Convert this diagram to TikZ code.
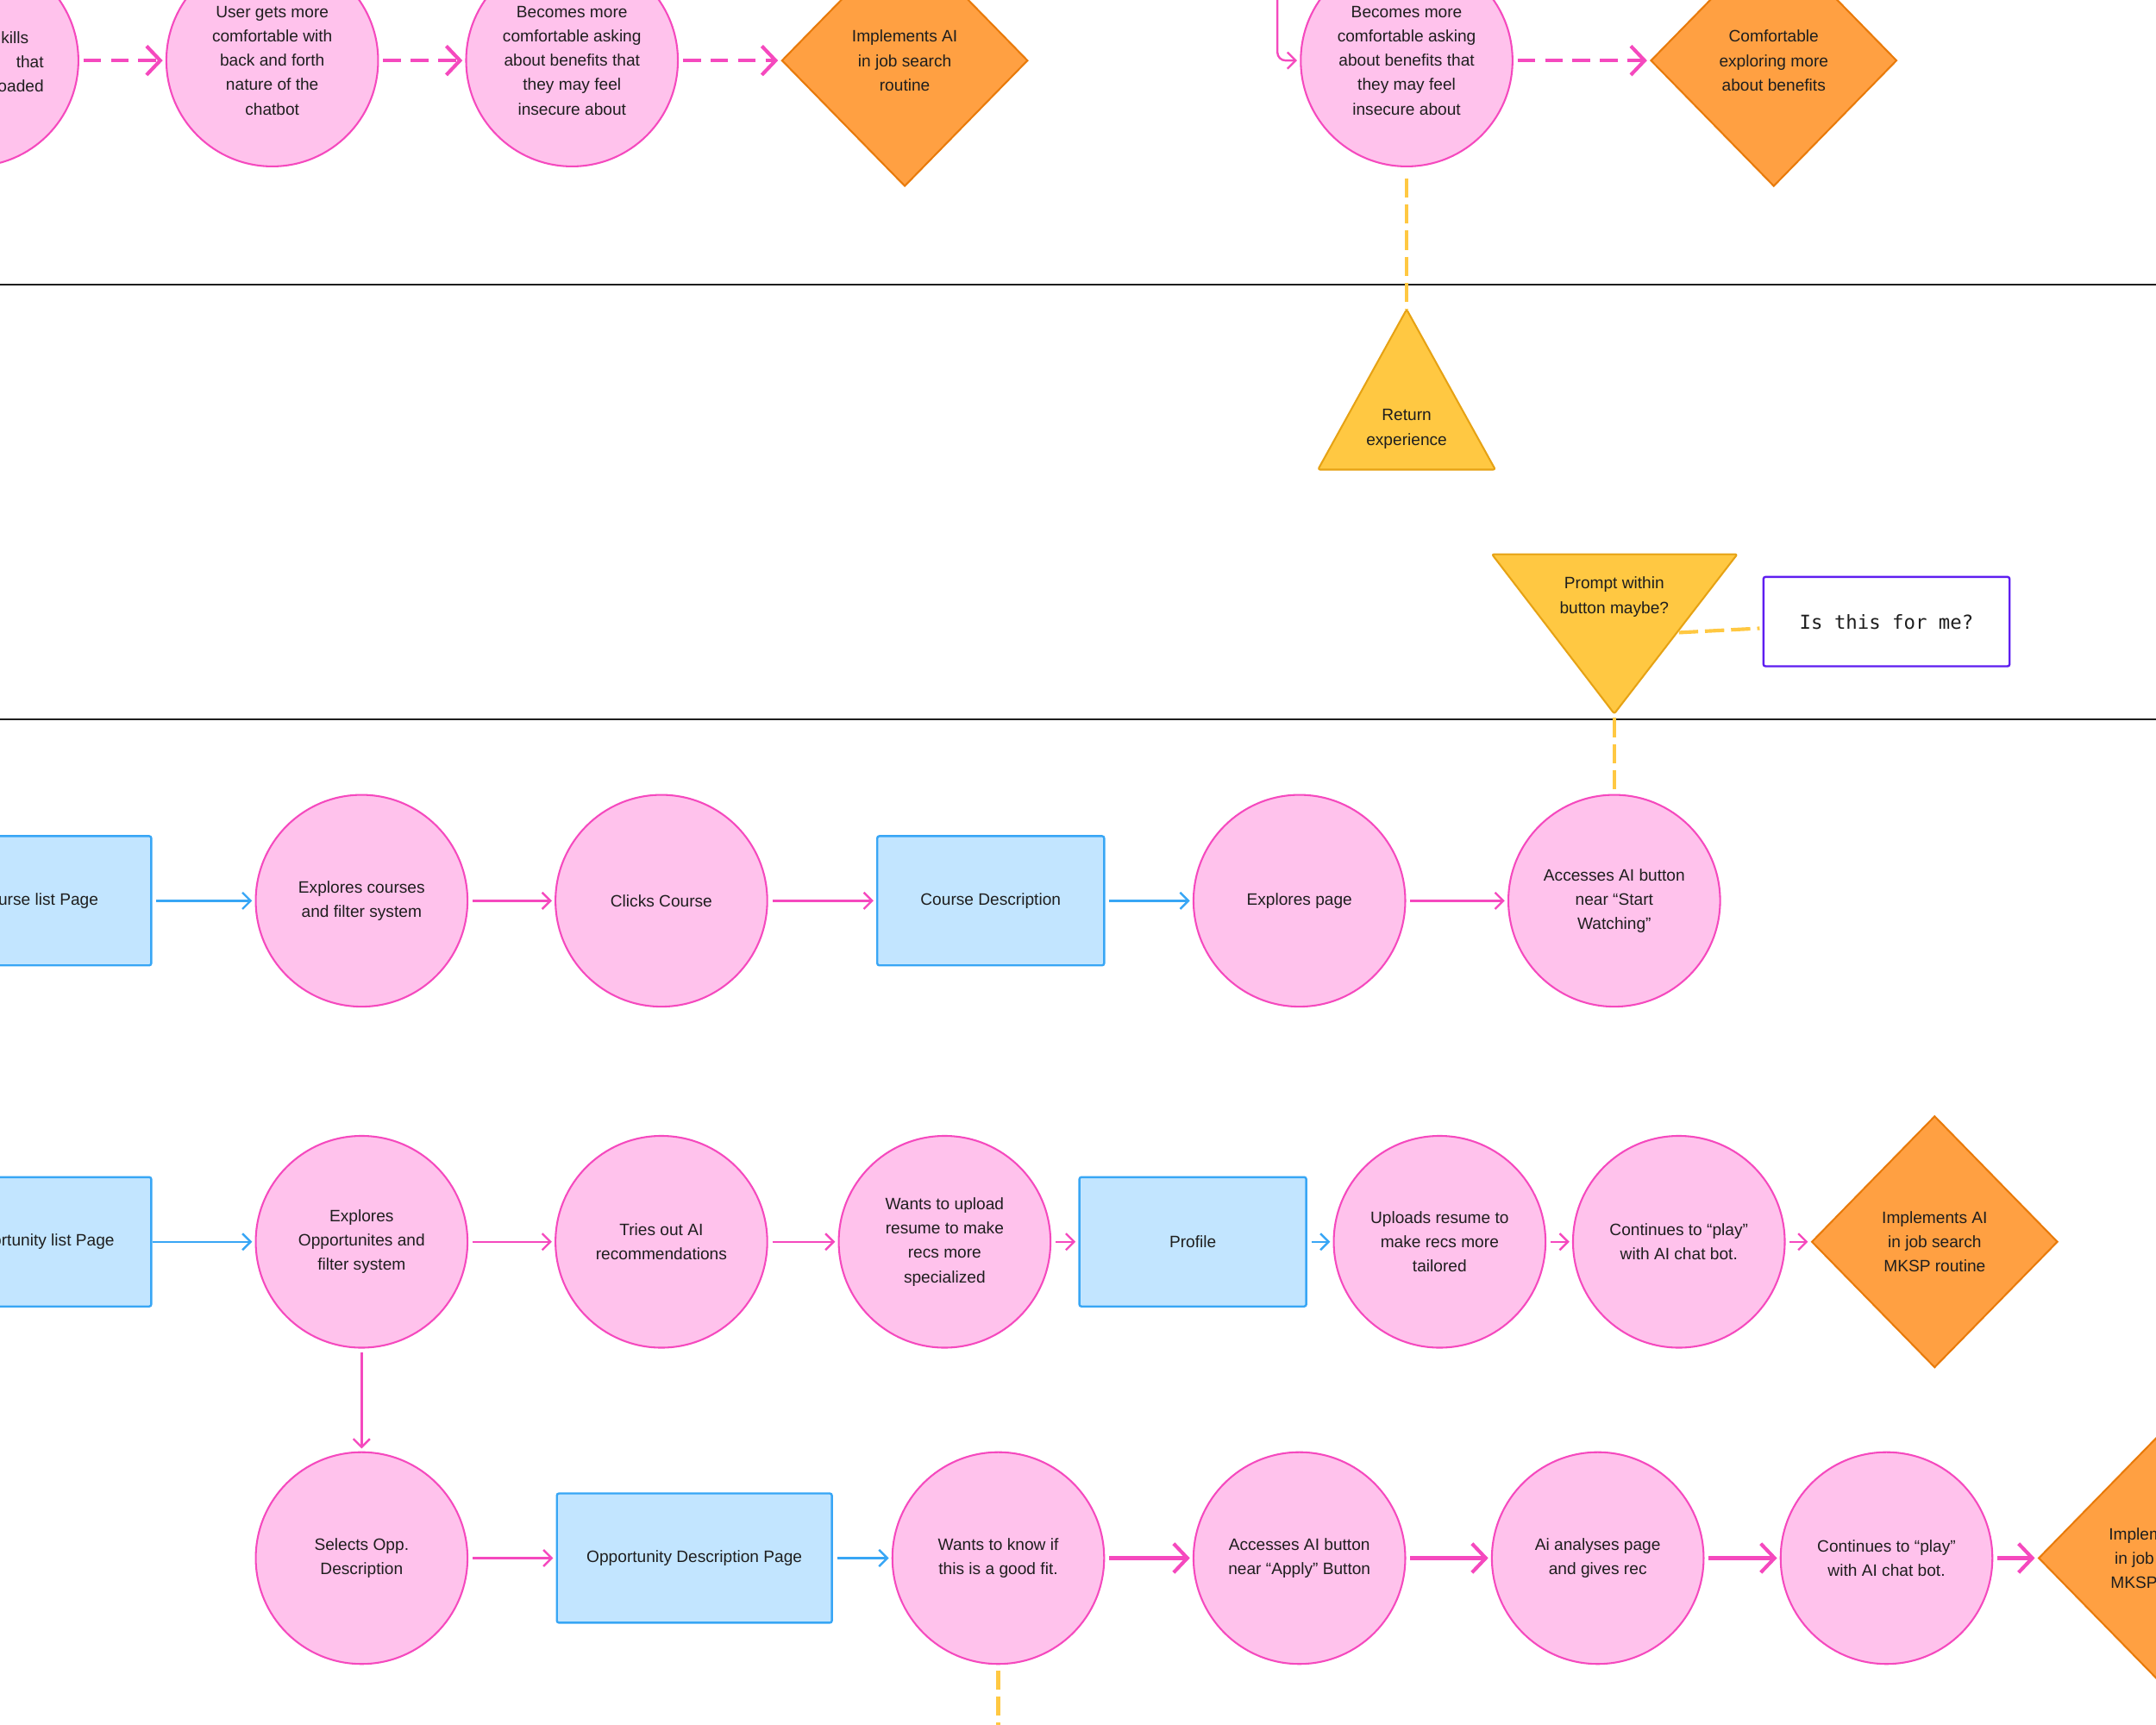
\documentclass[tikz,border=0pt]{standalone}
\usepackage{fontspec}
\setmainfont{Liberation Sans}
\newfontfamily\monofont{DejaVu Sans Mono}
\usetikzlibrary{positioning,shapes.geometric,arrows.meta}

\definecolor{pinkfill}{RGB}{255,194,236}
\definecolor{pinkline}{RGB}{245,73,190}
\definecolor{bluefill}{RGB}{194,229,255}
\definecolor{blueline}{RGB}{56,166,245}
\definecolor{orangefill}{RGB}{255,160,66}
\definecolor{orangeline}{RGB}{232,122,10}
\definecolor{yellowfill}{RGB}{255,200,66}
\definecolor{yellowline}{RGB}{230,162,20}
\definecolor{purpleline}{RGB}{94,30,240}
\definecolor{inktext}{RGB}{30,30,30}

\begin{document}
\begin{tikzpicture}[x=1pt, y=-1pt,
  every node/.style={
    font=\fontsize{12}{17.7}\selectfont,
    text=inktext,
    align=center,
  },
  stepc/.style={circle, draw=pinkline, fill=pinkfill, line width=1.3pt, minimum size=154pt, inner sep=1pt},
  pagebox/.style={rectangle, rounded corners=1.5pt, draw=blueline, fill=bluefill, line width=1.5pt, minimum width=165pt, minimum height=94pt},
  goal/.style={diamond, draw=orangeline, fill=orangefill, line width=1.3pt, minimum width=179pt, minimum height=183pt, inner sep=1pt},
  tri/.style={draw=yellowline, fill=yellowfill, line width=1.3pt, rounded corners=1.5pt, line join=round},
  flowp/.style={draw=pinkline, line width=1.5pt, -{Straight Barb[length=6pt,width=12pt]}, shorten <=3pt, shorten >=2pt},
  flowb/.style={flowp, draw=blueline},
  flowx/.style={flowp, line width=2.6pt, -{Straight Barb[length=10pt,width=21pt]}},
  flowd/.style={flowx, dash pattern=on 13pt off 7pt},
  hint/.style={draw=yellowfill, line width=2.6pt, dash pattern=on 14pt off 5pt},
]

  \useasboundingbox (0,0) rectangle (1568,1254);
  \clip (0,0) rectangle (1568,1254);

  % lanes
  \draw[line width=1.6pt, draw=inktext] (0,207) -- (1568,207);
  \draw[line width=1.6pt, draw=inktext] (0,523) -- (1568,523);

  % top lane
  \node[stepc] (t0) at (-20,44) {};
  \node[anchor=east, align=right, inner sep=0pt] (t0txt) at (32,45) {kills\kern11pt\\that\\oaded};
  \node[stepc, right of=t0, node distance=218pt] (t1) {User gets more\\comfortable with\\back and forth\\nature of the\\chatbot};
  \node[stepc, right of=t1, node distance=218pt] (t2) {Becomes more\\comfortable asking\\about benefits that\\they may feel\\insecure about};
  \node[goal, right of=t2, node distance=242pt] (t3) {Implements AI\\in job search\\routine};

  \node[stepc] (t4) at (1023,44) {Becomes more\\comfortable asking\\about benefits that\\they may feel\\insecure about};
  \node[goal, right of=t4, node distance=267pt] (t5) {Comfortable\\exploring more\\about benefits};
  \coordinate (t4in) at (929,-10);

  \draw[flowd] (t0) -- (t1);
  \draw[flowd] (t1) -- (t2);
  \draw[flowd] (t2) -- (t3);
  \draw[flowd] (t4) -- (t5);
  \draw[flowp, rounded corners=6pt] (t4in) |- (t4.west);

  % triangles
  \draw[tri] (1023,225) -- (1087.5,341.5) -- (958.5,341.5) -- cycle;
  \node (ret) at (1023,312) {Return\\experience};
  \coordinate (rettop) at (1023,225);
  \draw[hint, shorten <=8pt] (t4) -- (rettop);

  \draw[tri] (1085,403) -- (1263.5,403) -- (1174,519) -- cycle;
  \node (pmt) at (1174,434) {Prompt within\\button maybe?};
  \coordinate (pmtbot) at (1174,522);
  \coordinate (pmtside) at (1221,460);
  \node[draw=purpleline, fill=white, line width=1.5pt, rounded corners=1.5pt, minimum width=179pt, minimum height=65pt,
    font=\monofont\fontsize{14}{17}\selectfont] (ask) at (1372,452) {Is this for me?};
  \draw[hint, shorten >=2pt] (pmtside) -- (ask);

  % course lane
  \node[pagebox] (cl) at (27.5,655) {Course list Page};
  \node[stepc, right of=cl, node distance=235.5pt] (ec) {Explores courses\\and filter system};
  \node[stepc, right of=ec, node distance=218pt] (cc) {Clicks Course};
  \node[pagebox, right of=cc, node distance=239.5pt] (cd) {Course Description};
  \node[stepc, right of=cd, node distance=224.5pt] (ep) {Explores page};
  \node[stepc, right of=ep, node distance=229pt] (acc) {Accesses AI button\\near “Start\\Watching”};

  \draw[flowb] (cl) -- (ec);
  \draw[flowp] (ec) -- (cc);
  \draw[flowp] (cc) -- (cd);
  \draw[flowb] (cd) -- (ep);
  \draw[flowp] (ep) -- (acc);
  \draw[hint, shorten >=3pt] (pmtbot) -- (acc);

  % opportunity lane
  \node[pagebox] (ol) at (27.5,903) {Opportunity list Page};
  \node[stepc, right of=ol, node distance=235.5pt] (eo) {Explores\\Opportunites and\\filter system};
  \node[stepc, right of=eo, node distance=218pt] (ta) {Tries out AI\\recommendations};
  \node[stepc, right of=ta, node distance=206pt] (wu) {Wants to upload\\resume to make\\recs more\\specialized};
  \node[pagebox, right of=wu, node distance=180.5pt] (pr) {Profile};
  \node[stepc, right of=pr, node distance=179.5pt] (ur) {Uploads resume to\\make recs more\\tailored};
  \node[stepc, right of=ur, node distance=174pt] (cp) {Continues to “play”\\with AI chat bot.};
  \node[goal, right of=cp, node distance=186pt] (im) {Implements AI\\in job search\\MKSP routine};

  \draw[flowb, shorten <=0pt] (ol) -- (eo);
  \draw[flowp] (eo) -- (ta);
  \draw[flowp] (ta) -- (wu);
  \draw[flowp] (wu) -- (pr);
  \draw[flowb] (pr) -- (ur);
  \draw[flowp] (ur) -- (cp);
  \draw[flowp] (cp) -- (im);

  % opportunity description lane
  \node[stepc, below of=eo, node distance=230pt] (so) {Selects Opp.\\Description};
  \node[pagebox, minimum width=200pt, right of=so, node distance=242pt] (od) {Opportunity Description Page};
  \node[stepc, right of=od, node distance=221pt] (wk) {Wants to know if\\this is a good fit.};
  \node[stepc, right of=wk, node distance=219pt] (aa) {Accesses AI button\\near “Apply” Button};
  \node[stepc, right of=aa, node distance=217pt] (an) {Ai analyses page\\and gives rec};
  \node[stepc, right of=an, node distance=210pt] (cq) {Continues to “play”\\with AI chat bot.};
  \node[goal, right of=cq, node distance=200pt] (im2) {Implements AI\\in job search\\MKSP routine};
  \coordinate (wkdown) at (726,1275);

  \draw[flowp] (eo) -- (so);
  \draw[flowp] (so) -- (od);
  \draw[flowb] (od) -- (wk);
  \draw[flowx] (wk) -- (aa);
  \draw[flowx] (aa) -- (an);
  \draw[flowx] (an) -- (cq);
  \draw[flowx] (cq) -- (im2);
  \draw[hint, shorten <=4pt] (wk) -- (wkdown);

\end{tikzpicture}
\end{document}
